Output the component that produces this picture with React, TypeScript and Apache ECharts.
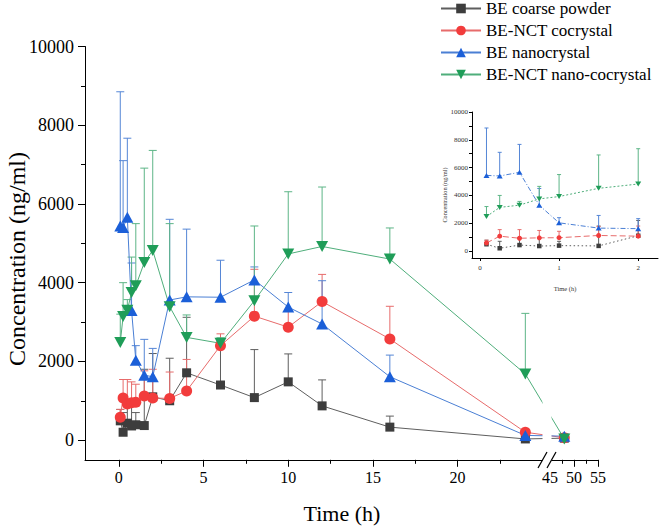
import React, { useEffect, useRef } from 'react';
import * as echarts from 'echarts';

// ---------- data ----------
const times = [0.083, 0.25, 0.5, 0.75, 1, 1.5, 2, 3, 4, 6, 8, 10, 12, 16, 24, 48];

const coarse = [490, 200, 430, 360, 390, 370, 1100, 1000, 1710, 1400, 1080, 1480, 870, 330, 30, 50];
const coarseErr = [780, 700, 970, 900, 700, 1800, 2200, 2080, 3120, 2500, 2300, 2190, 1530, 610, 60, 70];

const cocrystal = [580, 1070, 920, 950, 960, 1120, 1070, 1060, 1250, 2400, 3150, 2870, 3520, 2570, 200, 60];
const cocrystalErr = [780, 1540, 1540, 1480, 1420, 1760, 1800, 1730, 2050, 2700, 4340, 3300, 4210, 3400, 260, 90];

const nanocrystal = [5440, 5400, 5660, 3290, 2030, 1650, 1610, 3560, 3640, 3630, 4070, 3380, 2950, 1610, 120, 100];
const nanocrystalErr = [8850, 7100, 7670, 4500, 2400, 2560, 2330, 5610, 5360, 4570, 4400, 3750, 4050, 2160, 180, 140];

const nanoCocrystal = [2480, 3140, 3300, 3750, 3920, 4510, 4820, 3390, 2610, 2460, 3540, 4730, 4920, 4600, 1680, 30];
const nanoCocrystalErr = [3200, 4000, 3570, 4650, 5500, 6910, 7360, 5500, 3180, 2600, 5440, 6310, 6430, 5390, 3220, 60];

const seriesNames = ['BE coarse powder', 'BE-NCT cocrystal', 'BE nanocrystal', 'BE-NCT nano-cocrystal'];

const xLabelTicks = [0, 5, 10, 15, 20, 45, 50, 55];
const xMajorTicks = [0, 5, 10, 15, 20, 50, 55];
const xMinorTicks = [2.5, 7.5, 12.5, 17.5, 22.5, 47.5, 52.5];
const yMajorTicks = [0, 2000, 4000, 6000, 8000, 10000];
const yMinorTicks = [1000, 3000, 5000, 7000, 9000];
const insetXTicks = [0, 1, 2];
const insetYTicks = [0, 1000, 2000, 3000, 4000, 5000, 6000, 7000, 8000, 9000, 10000];
const insetMaxTime = 2;

// ---------- broken time axis mapping ----------
const U45 = 25.45;
const KB = 0.2834;
const toU = (t: number) => (t <= 30 ? t : U45 + (t - 45) * KB);
const fromU = (u: number) => (u <= 25.3 ? u : 45 + (u - U45) / KB);

const FONT = 'Liberation Serif';

const STYLES = [
  { symbol: 'rect', size: 9, rotate: 0, marker: '#3d3d3d', line: '#5e5e5e', err: '#5e5e5e', dash: [1.5, 2.5], insetSize: 4.5 },
  { symbol: 'circle', size: 11, rotate: 0, marker: '#f23c3c', line: '#e76b6b', err: '#e76b6b', dash: [6, 3], insetSize: 5 },
  { symbol: 'triangle', size: [12, 11], rotate: 0, marker: '#1b5fd8', line: '#4a7fd4', err: '#5586d6', dash: [5, 2, 1, 2], insetSize: [6, 5] },
  { symbol: 'triangle', size: [12, 11], rotate: 180, marker: '#1f9d58', line: '#4fae7b', err: '#5db587', dash: [2, 2], insetSize: [6, 5] },
];

const VALUES = [coarse, cocrystal, nanocrystal, nanoCocrystal];
const ERRS = [coarseErr, cocrystalErr, nanocrystalErr, nanoCocrystalErr];

function errRender(color: string, cap: number) {
  return (params: any, api: any) => {
    const x = api.value(0);
    const y = api.value(1);
    const top = api.value(2);
    const p0 = api.coord([x, y]);
    const p1 = api.coord([x, top]);
    return {
      type: 'group',
      children: [
        { type: 'line', shape: { x1: p0[0], y1: p0[1], x2: p1[0], y2: p1[1] }, style: { stroke: color, lineWidth: 1 } },
        { type: 'line', shape: { x1: p1[0] - cap, y1: p1[1], x2: p1[0] + cap, y2: p1[1] }, style: { stroke: color, lineWidth: 1 } },
      ],
    };
  };
}

const plain = (v: number) => String(Math.round(v));

function buildOption() {
  const series: any[] = [];
  VALUES.forEach((vals, k) => {
    const st = STYLES[k];
    series.push({
      type: 'custom',
      name: 'err-' + k,
      xAxisIndex: 0,
      yAxisIndex: 0,
      silent: true,
      z: 2,
      encode: { x: 0, y: [1, 2] },
      data: times.map((t, i) => [toU(t), vals[i], ERRS[k][i]]),
      renderItem: errRender(st.err, 4),
    });
    series.push({
      type: 'line',
      name: seriesNames[k],
      xAxisIndex: 0,
      yAxisIndex: 0,
      z: 3,
      data: times.map((t, i) => [toU(t), vals[i]]),
      symbol: st.symbol,
      symbolSize: st.size,
      symbolRotate: st.rotate,
      showAllSymbol: true,
      itemStyle: { color: st.marker },
      lineStyle: { color: st.line, width: 1 },
      emphasis: { disabled: true },
    });
  });
  // inset
  VALUES.forEach((vals, k) => {
    const st = STYLES[k];
    const idx = times.map((t, i) => i).filter((i) => times[i] <= insetMaxTime);
    series.push({
      type: 'custom',
      name: 'inset-err-' + k,
      xAxisIndex: 2,
      yAxisIndex: 2,
      silent: true,
      z: 2,
      encode: { x: 0, y: [1, 2] },
      data: idx.map((i) => [times[i], vals[i], ERRS[k][i]]),
      renderItem: errRender(st.err, 2),
    });
    series.push({
      type: 'line',
      name: 'inset-' + k,
      xAxisIndex: 2,
      yAxisIndex: 2,
      z: 3,
      data: idx.map((i) => [times[i], vals[i]]),
      symbol: st.symbol,
      symbolSize: st.insetSize,
      symbolRotate: st.rotate,
      itemStyle: { color: st.marker },
      lineStyle: { color: st.line, width: 1, type: st.dash },
      emphasis: { disabled: true },
    });
  });

  const axisBase = {
    type: 'value',
    splitLine: { show: false },
  };

  return {
    animation: false,
    backgroundColor: '#ffffff',
    textStyle: { fontFamily: FONT },
    legend: {
      data: seriesNames,
      orient: 'vertical',
      left: 440,
      top: 0,
      padding: 0,
      itemWidth: 40,
      itemHeight: 12,
      itemGap: 5,
      selectedMode: false,
      textStyle: { fontFamily: FONT, fontSize: 17, color: '#000', lineHeight: 17 },
    },
    grid: [
      { left: 85, top: 46.5, width: 513, height: 413.3 },
      { left: 472, top: 112, width: 186, height: 146 },
    ],
    xAxis: [
      {
        ...axisBase,
        gridIndex: 0,
        position: 'bottom',
        min: -2,
        max: 28.29,
        axisLine: { show: true, onZero: false, lineStyle: { color: '#000', width: 1 } },
        axisTick: { show: true, customValues: xMajorTicks.map(toU), length: 7, lineStyle: { color: '#000' } },
        axisLabel: {
          customValues: xLabelTicks.map(toU),
          formatter: (v: number) => String(Math.round(fromU(v))),
          fontFamily: FONT,
          fontSize: 16,
          color: '#000',
          margin: 10,
        },
      },
      {
        ...axisBase,
        gridIndex: 0,
        position: 'bottom',
        min: -2,
        max: 28.29,
        axisLine: { show: false, onZero: false },
        axisTick: { show: true, customValues: xMinorTicks.map(toU), length: 4, lineStyle: { color: '#000' } },
        axisLabel: { show: false },
      },
      {
        ...axisBase,
        gridIndex: 1,
        position: 'bottom',
        min: -0.1,
        max: 2.25,
        axisLine: { show: true, onZero: false, lineStyle: { color: '#000', width: 1 } },
        axisTick: { show: true, customValues: insetXTicks, length: 3, lineStyle: { color: '#000' } },
        axisLabel: { customValues: insetXTicks, formatter: plain, fontFamily: FONT, fontSize: 7, color: '#333', margin: 6 },
      },
    ],
    yAxis: [
      {
        ...axisBase,
        gridIndex: 0,
        position: 'left',
        min: -500,
        max: 10000,
        axisLine: { show: true, onZero: false, lineStyle: { color: '#000', width: 1 } },
        axisTick: { show: true, customValues: yMajorTicks, length: 7, lineStyle: { color: '#000' } },
        axisLabel: { customValues: yMajorTicks, formatter: plain, fontFamily: FONT, fontSize: 18, color: '#000', margin: 11 },
      },
      {
        ...axisBase,
        gridIndex: 0,
        position: 'left',
        min: -500,
        max: 10000,
        axisLine: { show: false, onZero: false },
        axisTick: { show: true, customValues: yMinorTicks, length: 4, lineStyle: { color: '#000' } },
        axisLabel: { show: false },
      },
      {
        ...axisBase,
        gridIndex: 1,
        position: 'left',
        min: -500,
        max: 10000,
        axisLine: { show: true, onZero: false, lineStyle: { color: '#000', width: 1 } },
        axisTick: { show: true, customValues: insetYTicks, length: 3, lineStyle: { color: '#000' } },
        axisLabel: { customValues: yMajorTicks, formatter: plain, fontFamily: FONT, fontSize: 7, color: '#333', margin: 4 },
      },
    ],
    graphic: [
      { type: 'rect', z: 100, shape: { x: 542.5, y: 300, width: 9, height: 162 }, style: { fill: '#ffffff' } },
      { type: 'line', z: 101, shape: { x1: 538, y1: 468, x2: 547, y2: 452 }, style: { stroke: '#000', lineWidth: 1.2 } },
      { type: 'line', z: 101, shape: { x1: 547, y1: 468, x2: 556, y2: 452 }, style: { stroke: '#000', lineWidth: 1.2 } },
      {
        type: 'text', z: 102, x: 17, y: 259, rotation: Math.PI / 2,
        style: { text: 'Concentration (ng/ml)', fontFamily: FONT, fontSize: 24, fill: '#000', align: 'center', verticalAlign: 'middle' },
      },
      {
        type: 'text', z: 102, x: 342, y: 513,
        style: { text: 'Time (h)', fontFamily: FONT, fontSize: 22, fill: '#000', align: 'center', verticalAlign: 'middle' },
      },
      {
        type: 'text', z: 102, x: 444, y: 195, rotation: Math.PI / 2,
        style: { text: 'Concentration (ng/ml)', fontFamily: FONT, fontSize: 6.2, fill: '#333', align: 'center', verticalAlign: 'middle' },
      },
      {
        type: 'text', z: 102, x: 565, y: 288,
        style: { text: 'Time (h)', fontFamily: FONT, fontSize: 6.5, fill: '#333', align: 'center', verticalAlign: 'middle' },
      },
    ],
    series,
  };
}

export default function App() {
  const ref = useRef<HTMLDivElement>(null);
  useEffect(() => {
    if (!ref.current) return;
    const chart = echarts.init(ref.current, null, { renderer: 'svg' });
    chart.setOption(buildOption() as any);
    return () => chart.dispose();
  }, []);
  return (
    <div
      ref={ref}
      style={{ position: 'fixed', left: 0, top: 0, width: 660, height: 529, background: '#fff' }}
    />
  );
}
